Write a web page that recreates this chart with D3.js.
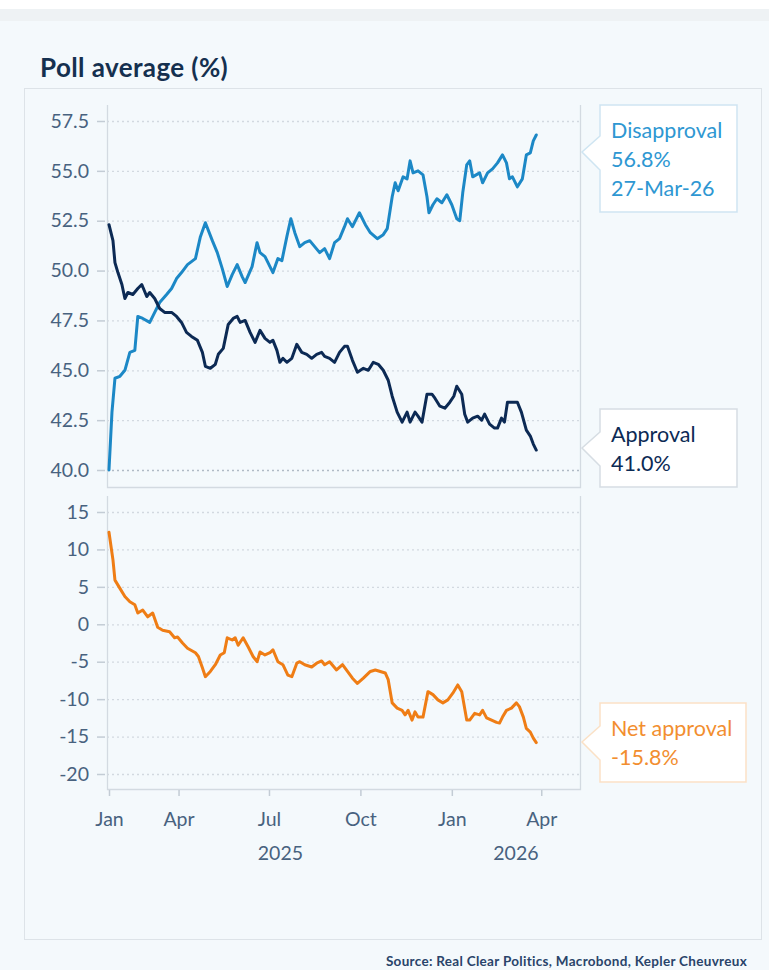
<!DOCTYPE html>
<html>
<head>
<meta charset="utf-8">
<script src="https://cdn.jsdelivr.net/npm/d3@7"></script>
<style>
  html, body { margin: 0; padding: 0; background: #fff; }
  svg { display: block; font-family: Lato, "Noto Sans", sans-serif; }
</style>
</head>
<body>
<svg id="chart" width="769" height="970"></svg>
<script>
// poll averages (date, value)
var disapproval = [
  ["2025-01-21",40.0],["2025-01-24",42.9],["2025-01-27",44.6],["2025-02-01",44.7],["2025-02-06",45.0],
  ["2025-02-11",45.9],["2025-02-16",46.0],["2025-02-19",47.7],["2025-02-24",47.6],["2025-03-03",47.4],
  ["2025-03-08",47.9],["2025-03-13",48.4],["2025-03-20",48.8],["2025-03-25",49.1],["2025-03-30",49.6],
  ["2025-04-04",49.9],["2025-04-10",50.3],["2025-04-18",50.6],["2025-04-23",51.7],["2025-04-28",52.4],
  ["2025-05-05",51.5],["2025-05-10",50.9],["2025-05-15",50.1],["2025-05-20",49.2],["2025-05-25",49.8],
  ["2025-05-30",50.3],["2025-06-04",49.7],["2025-06-07",49.4],["2025-06-14",50.2],["2025-06-19",51.4],
  ["2025-06-22",50.9],["2025-06-27",50.7],["2025-07-02",50.2],["2025-07-05",49.9],["2025-07-10",50.6],
  ["2025-07-14",50.5],["2025-07-19",51.7],["2025-07-23",52.6],["2025-07-27",51.9],["2025-08-01",51.2],
  ["2025-08-06",51.4],["2025-08-11",51.5],["2025-08-16",51.2],["2025-08-21",50.9],["2025-08-26",51.1],
  ["2025-08-31",50.6],["2025-09-05",51.4],["2025-09-10",51.6],["2025-09-15",52.2],["2025-09-18",52.6],
  ["2025-09-23",52.2],["2025-09-30",52.9],["2025-10-06",52.3],["2025-10-11",51.9],["2025-10-18",51.6],
  ["2025-10-24",51.8],["2025-10-28",52.1],["2025-11-02",53.7],["2025-11-05",54.4],["2025-11-08",54.0],
  ["2025-11-13",54.7],["2025-11-17",54.6],["2025-11-20",55.5],["2025-11-23",54.9],["2025-11-28",55.0],
  ["2025-12-03",54.8],["2025-12-07",53.7],["2025-12-09",52.9],["2025-12-13",53.3],["2025-12-17",53.6],
  ["2025-12-22",53.4],["2025-12-27",53.8],["2026-01-01",53.3],["2026-01-06",52.6],["2026-01-09",52.5],
  ["2026-01-12",53.9],["2026-01-16",55.3],["2026-01-19",55.5],["2026-01-22",54.7],["2026-01-29",54.9],
  ["2026-02-01",54.4],["2026-02-06",54.9],["2026-02-11",55.1],["2026-02-16",55.4],["2026-02-21",55.8],
  ["2026-02-25",55.4],["2026-02-28",54.6],["2026-03-03",54.7],["2026-03-08",54.2],["2026-03-13",54.6],
  ["2026-03-17",55.8],["2026-03-21",55.9],["2026-03-24",56.5],["2026-03-27",56.8]
];
var approval = [
  ["2025-01-21",52.3],["2025-01-25",51.5],["2025-01-27",50.4],["2025-01-30",49.9],["2025-02-03",49.3],
  ["2025-02-06",48.6],["2025-02-09",48.9],["2025-02-14",48.8],["2025-02-19",49.1],["2025-02-23",49.3],
  ["2025-02-28",48.7],["2025-03-03",48.9],["2025-03-08",48.6],["2025-03-13",48.1],["2025-03-18",47.9],
  ["2025-03-25",47.9],["2025-03-30",47.7],["2025-04-04",47.4],["2025-04-09",46.9],["2025-04-14",46.7],
  ["2025-04-20",46.5],["2025-04-25",45.9],["2025-04-28",45.2],["2025-05-03",45.1],["2025-05-08",45.3],
  ["2025-05-11",45.8],["2025-05-16",46.1],["2025-05-21",47.3],["2025-05-26",47.6],["2025-05-30",47.7],
  ["2025-06-02",47.4],["2025-06-07",47.5],["2025-06-12",46.9],["2025-06-17",46.4],["2025-06-22",47.0],
  ["2025-06-27",46.6],["2025-07-02",46.4],["2025-07-05",46.5],["2025-07-09",46.0],["2025-07-12",45.4],
  ["2025-07-15",45.6],["2025-07-19",45.4],["2025-07-24",45.6],["2025-07-29",46.3],["2025-08-03",45.9],
  ["2025-08-08",45.8],["2025-08-13",45.6],["2025-08-18",45.8],["2025-08-23",45.9],["2025-08-26",45.7],
  ["2025-08-31",45.6],["2025-09-05",45.4],["2025-09-10",45.9],["2025-09-15",46.2],["2025-09-18",46.2],
  ["2025-09-23",45.5],["2025-09-28",44.9],["2025-10-04",45.1],["2025-10-09",45.0],["2025-10-14",45.4],
  ["2025-10-19",45.3],["2025-10-24",45.0],["2025-10-29",44.5],["2025-11-02",43.7],["2025-11-07",42.9],
  ["2025-11-12",42.4],["2025-11-17",42.9],["2025-11-20",42.4],["2025-11-25",42.9],["2025-11-28",42.7],
  ["2025-12-02",42.4],["2025-12-07",43.8],["2025-12-12",43.8],["2025-12-15",43.6],["2025-12-20",43.2],
  ["2025-12-25",43.1],["2025-12-30",43.4],["2026-01-03",43.7],["2026-01-06",44.2],["2026-01-11",43.8],
  ["2026-01-14",42.8],["2026-01-17",42.4],["2026-01-22",42.6],["2026-01-27",42.7],["2026-01-31",42.5],
  ["2026-02-03",42.8],["2026-02-08",42.3],["2026-02-13",42.1],["2026-02-16",42.1],["2026-02-20",42.6],
  ["2026-02-23",42.4],["2026-02-26",43.4],["2026-03-03",43.4],["2026-03-08",43.4],["2026-03-12",42.9],
  ["2026-03-17",42.0],["2026-03-21",41.7],["2026-03-24",41.3],["2026-03-27",41.0]
];
var netApproval = [
  ["2025-01-21",12.3],["2025-01-25",8.6],["2025-01-27",5.9],["2025-02-01",4.8],["2025-02-06",3.7],
  ["2025-02-11",3.0],["2025-02-16",2.6],["2025-02-19",1.5],["2025-02-24",1.9],["2025-03-01",1.0],
  ["2025-03-06",1.5],["2025-03-11",-0.4],["2025-03-16",-0.8],["2025-03-23",-1.0],["2025-03-28",-1.8],
  ["2025-03-31",-1.7],["2025-04-05",-2.5],["2025-04-10",-3.2],["2025-04-18",-3.8],["2025-04-21",-4.3],
  ["2025-04-25",-5.8],["2025-04-28",-7.0],["2025-05-03",-6.3],["2025-05-08",-5.4],["2025-05-13",-4.1],
  ["2025-05-17",-3.8],["2025-05-20",-1.8],["2025-05-25",-2.1],["2025-05-28",-1.8],["2025-05-31",-2.8],
  ["2025-06-05",-1.8],["2025-06-10",-3.0],["2025-06-15",-4.3],["2025-06-19",-5.0],["2025-06-22",-3.7],
  ["2025-06-27",-4.1],["2025-07-02",-3.8],["2025-07-05",-3.4],["2025-07-10",-5.0],["2025-07-15",-5.4],
  ["2025-07-20",-6.8],["2025-07-24",-7.0],["2025-07-29",-5.2],["2025-08-01",-5.0],["2025-08-06",-5.4],
  ["2025-08-13",-5.7],["2025-08-18",-5.2],["2025-08-23",-4.9],["2025-08-26",-5.4],["2025-08-31",-5.0],
  ["2025-09-07",-6.1],["2025-09-13",-5.4],["2025-09-18",-6.3],["2025-09-23",-7.2],["2025-09-28",-7.9],
  ["2025-10-04",-7.2],["2025-10-11",-6.3],["2025-10-16",-6.1],["2025-10-21",-6.3],["2025-10-26",-6.5],
  ["2025-10-29",-7.4],["2025-11-02",-10.5],["2025-11-07",-11.2],["2025-11-12",-11.5],["2025-11-15",-12.1],
  ["2025-11-18",-11.5],["2025-11-22",-12.8],["2025-11-25",-11.7],["2025-11-28",-12.4],["2025-12-03",-12.4],
  ["2025-12-08",-9.0],["2025-12-13",-9.4],["2025-12-18",-10.1],["2025-12-23",-10.5],["2025-12-28",-10.1],
  ["2026-01-02",-9.2],["2026-01-07",-8.1],["2026-01-11",-9.0],["2026-01-16",-12.8],["2026-01-19",-12.8],
  ["2026-01-24",-11.9],["2026-01-29",-12.1],["2026-02-01",-11.5],["2026-02-05",-12.5],["2026-02-10",-12.8],
  ["2026-02-15",-13.1],["2026-02-18",-13.2],["2026-02-21",-12.4],["2026-02-25",-11.5],["2026-03-02",-11.2],
  ["2026-03-07",-10.5],["2026-03-10",-11.0],["2026-03-14",-12.4],["2026-03-17",-13.9],["2026-03-21",-14.4],
  ["2026-03-24",-15.2],["2026-03-27",-15.8]
];

var topTicks = [40, 42.5, 45, 47.5, 50, 52.5, 55, 57.5];
var bottomTicks = [-20, -15, -10, -5, 0, 5, 10, 15];
var monthTicks = ["2025-01-21","2025-04-01","2025-07-01","2025-10-01","2026-01-01","2026-04-01"];
var monthLabels = ["Jan","Apr","Jul","Oct","Jan","Apr"];
var years = ["2025","2026"];
var yearSpans = [["2025-01-21","2026-01-01"],["2026-01-01","2026-05-10"]];
var dateRange = ["2025-01-19","2026-05-10"];

var parse = d3.timeParse("%Y-%m-%d");
var colDis = "#1c88c6", colApp = "#0c2a54", colNet = "#ef7d15";
var axisCol = "#48627f", frameCol = "#d3dae1";

var svg = d3.select("#chart");

// page background
svg.append("rect").attr("x",0).attr("y",9).attr("width",769).attr("height",961).attr("fill","#f4f9fc");
svg.append("rect").attr("x",0).attr("y",9).attr("width",769).attr("height",12).attr("fill","#eef2f4");
svg.append("rect").attr("x",24.5).attr("y",88.5).attr("width",737).attr("height",851)
  .attr("fill","none").attr("stroke","#dde3e8");

svg.append("text").attr("x",40).attr("y",77)
  .attr("font-size",26).attr("font-weight",700).attr("fill","#15304f")
  .attr("letter-spacing",0.4)
  .text("Poll average (%)");

var left = 107, right = 580;
var x = d3.scaleTime().domain(dateRange.map(parse)).range([left, right]);

var topP = {top:105, bottom:487};
var botP = {top:496, bottom:789};
var yTop = d3.scaleLinear().domain([40, 57.5]).range([470, 121]);
var yBot = d3.scaleLinear().domain([-20, 15]).range([774, 512]);

function panel(p, y, ticks, fmt){
  var g = svg.append("g");
  // grid
  g.selectAll(".grid").data(ticks).enter().append("line")
    .attr("x1",left).attr("x2",right)
    .attr("y1",function(d){return y(d)+0.5;}).attr("y2",function(d){return y(d)+0.5;})
    .attr("stroke",function(d,i){return (y===yTop && i===0) ? "#b0bac5" : "#d2d9e0";})
    .attr("stroke-width",1.3).attr("stroke-dasharray","2,3");
  // frame
  g.append("path")
    .attr("d","M"+(left+0.5)+","+p.top+"V"+(p.bottom+0.5)+"H"+(right+0.5)+"V"+p.top)
    .attr("fill","none").attr("stroke",frameCol).attr("stroke-width",1.3);
  var ax = g.append("g").attr("transform","translate(105,0)")
    .call(d3.axisLeft(y).tickValues(ticks).tickFormat(fmt).tickSize(8).tickPadding(8));
  ax.select(".domain").remove();
  ax.selectAll(".tick line").attr("stroke","#c3ccd5").attr("stroke-width",1.5);
  ax.selectAll(".tick text").attr("fill",axisCol).attr("font-size",19.5)
    .attr("font-family","Lato, sans-serif");
}
panel(topP, yTop, topTicks, d3.format(".1f"));
panel(botP, yBot, bottomTicks, function(d){ return String(d); });

function drawLine(data, y, col){
  var line = d3.line()
    .x(function(d){return x(parse(d[0]));})
    .y(function(d){return y(d[1]);});
  svg.append("path").attr("d", line(data))
    .attr("fill","none").attr("stroke",col).attr("stroke-width",3)
    .attr("stroke-linejoin","round").attr("stroke-linecap","round");
}
drawLine(disapproval, yTop, colDis);
drawLine(approval, yTop, colApp);
drawLine(netApproval, yBot, colNet);

// x axis
var xa = svg.append("g").attr("transform","translate(0,"+(botP.bottom+1)+")")
  .call(d3.axisBottom(x).tickValues(monthTicks.map(parse))
    .tickFormat(function(d,i){return monthLabels[i];}).tickSize(6).tickPadding(16));
xa.select(".domain").remove();
xa.selectAll(".tick line").attr("stroke","#c3ccd5").attr("stroke-width",1.5);
xa.selectAll(".tick text").attr("fill",axisCol).attr("font-size",19.5).attr("font-family","Lato, sans-serif");

svg.selectAll(".year").data(years).enter().append("text")
  .attr("x",function(d,i){return (x(parse(yearSpans[i][0])) + x(parse(yearSpans[i][1])))/2;})
  .attr("y",860).attr("text-anchor","middle")
  .attr("font-size",19.5).attr("fill",axisCol).text(function(d){return d;});

// end labels
function callout(bx, by, bw, bh, tipY, border, col, lines){
  var g = svg.append("g");
  var tx = bx - 18;
  g.append("path")
    .attr("d","M"+bx+","+by+"H"+(bx+bw)+"V"+(by+bh)+"H"+bx+"V"+(tipY+18)+"L"+tx+","+tipY+"L"+bx+","+(tipY-16)+"Z")
    .attr("fill","#ffffff").attr("stroke",border).attr("stroke-width",1.5);
  g.selectAll("text").data(lines).enter().append("text")
    .attr("x",bx+11).attr("y",function(d,i){return by+33+i*29;})
    .attr("font-size",21.5).attr("fill",col).text(function(d){return d;});
}
var lastDis = disapproval[disapproval.length-1];
var lastApp = approval[approval.length-1];
var lastNet = netApproval[netApproval.length-1];
var fmtDate = d3.timeFormat("%d-%b-%y");
callout(600, 105, 137, 107, 152, "#cfe5f2", "#2e97d2",
  ["Disapproval", lastDis[1].toFixed(1)+"%", fmtDate(parse(lastDis[0]))]);
callout(600, 409, 137, 78, 448, "#d6dde3", colApp,
  ["Approval", lastApp[1].toFixed(1)+"%"]);
callout(600, 703, 146, 79, 742, "#fbe1c6", "#f28e2f",
  ["Net approval", lastNet[1].toFixed(1)+"%"]);

svg.append("text").attr("x",747).attr("y",966).attr("text-anchor","end")
  .attr("font-size",13.5).attr("font-weight",700).attr("fill","#29446a")
  .attr("letter-spacing",0.3)
  .text("Source: Real Clear Politics, Macrobond, Kepler Cheuvreux");
</script>
</body>
</html>
